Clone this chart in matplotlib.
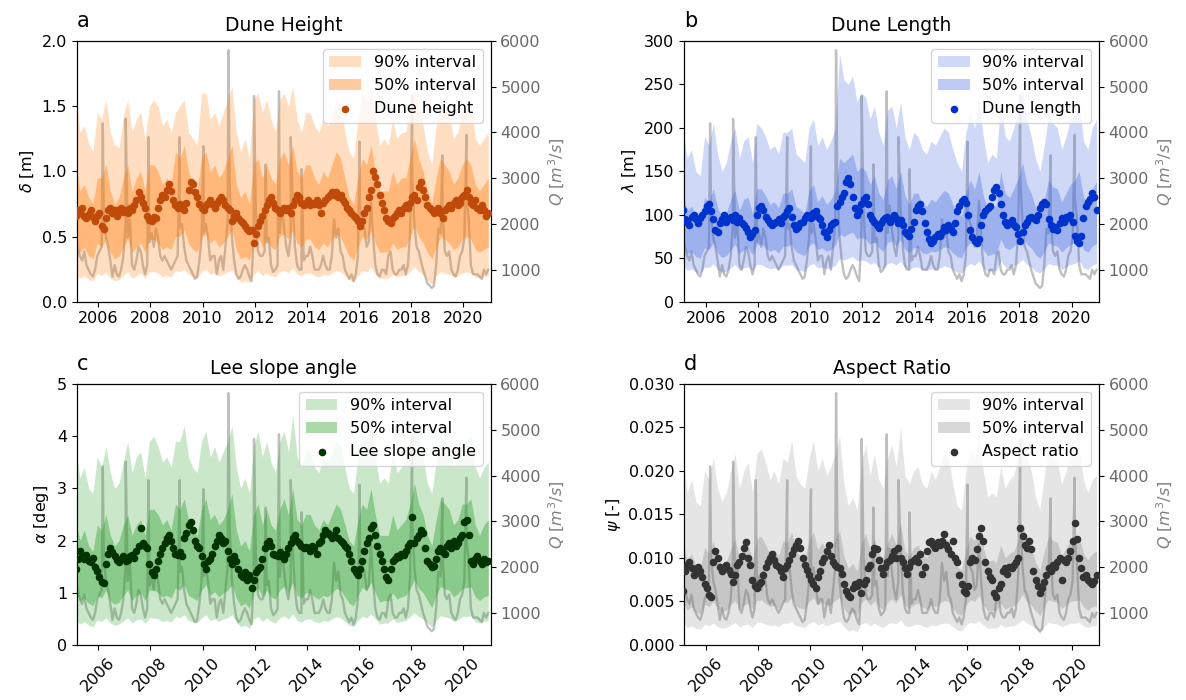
import numpy as np
import matplotlib
matplotlib.use('Agg')
from matplotlib import pyplot as plt

# monthly grid Feb 2005 .. Dec 2020 (decimal years), bands every 2 months
t_month = 2005.125 + np.arange(191) / 12.0
t_band = 2005.125 + np.arange(96) / 6.0

# discharge, monthly base values
Q_BASE = [1700, 1500, 1300, 1200, 1400, 1100, 1000, 900, 850, 1000, 1300,
          1400, 1500, 2200, 1700, 1500, 1200, 850, 1100, 900, 850, 1000, 1300,
          2000, 1700, 2100, 1100, 1000, 1200, 1500, 1400, 1100, 900, 1100, 1600,
          1800, 1500, 1900, 1700, 1300, 1200, 1300, 1200, 1100, 1000, 1100, 1200,
          1300, 1900, 2000, 1500, 1200, 1100, 1000, 900, 800, 850, 1200, 1700,
          1800, 2000, 1700, 1200, 1300, 1300, 900, 1200, 1300, 1000, 1500, 2000,
          2800, 1700, 1200, 900, 800, 850, 1000, 1100, 1000, 850, 750, 1700,
          2300, 1400, 1300, 1300, 1400, 1600, 1700, 1100, 950, 1000, 1100, 1800,
          2400, 1900, 1500, 1300, 1700, 2400, 1500, 1100, 1000, 1000, 1200, 1300,
          1300, 1500, 1300, 1000, 1000, 1000, 1100, 1300, 1100, 1000, 1000, 1300,
          2100, 1700, 1900, 1400, 1300, 1000, 900, 800, 900, 750, 900, 1300,
          2200, 2000, 1900, 1500, 1600, 2500, 1700, 1100, 900, 850, 1000, 1000,
          900, 1300, 1400, 1000, 900, 900, 1000, 1000, 1100, 900, 1100, 1800,
          3000, 2000, 1500, 1400, 1200, 1000, 850, 700, 650, 600, 650, 1100,
          1900, 1800, 2200, 1400, 1300, 1400, 1000, 900, 850, 1000, 1300, 1400,
          1700, 2600, 2100, 1100, 900, 900, 900, 850, 800, 1000, 900, 1000]
# flood peaks
Q_PEAK_T = [2006.17, 2007.05, 2007.92, 2009.12, 2010.03, 2010.99, 2011.97, 2012.42,
            2012.93, 2013.38, 2013.8, 2016.02, 2018.04, 2019.2, 2020.12]
Q_PEAK = [4200, 4300, 3900, 3900, 3700, 5800, 4800, 3300,
          4900, 3900, 3200, 3800, 4800, 3500, 3950]

# a: dune height [m]
HEIGHT = [0.66, 0.70, 0.68, 0.72, 0.66, 0.64, 0.67, 0.70, 0.65, 0.62, 0.66,
          0.68, 0.58, 0.56, 0.64, 0.70, 0.72, 0.68, 0.70, 0.66, 0.70, 0.72, 0.69,
          0.70, 0.68, 0.72, 0.70, 0.74, 0.78, 0.84, 0.80, 0.76, 0.72, 0.66, 0.63,
          0.62, 0.65, 0.64, 0.72, 0.78, 0.82, 0.80, 0.86, 0.90, 0.85, 0.78, 0.74,
          0.72, 0.75, 0.72, 0.70, 0.76, 0.86, 0.92, 0.90, 0.84, 0.80, 0.75, 0.72,
          0.70, 0.74, 0.76, 0.78, 0.75, 0.72, 0.76, 0.78, 0.80, 0.78, 0.74, 0.72,
          0.70, 0.62, 0.66, 0.68, 0.64, 0.62, 0.60, 0.58, 0.56, 0.54, 0.55, 0.45,
          0.52, 0.58, 0.62, 0.66, 0.70, 0.74, 0.78, 0.80, 0.76, 0.72, 0.70, 0.68,
          0.70, 0.72, 0.70, 0.72, 0.68, 0.74, 0.78, 0.82, 0.80, 0.76, 0.74, 0.76,
          0.78, 0.74, 0.76, 0.75, 0.78, 0.74, 0.68, 0.76, 0.78, 0.80, 0.82, 0.84,
          0.82, 0.84, 0.80, 0.82, 0.78, 0.76, 0.72, 0.70, 0.68, 0.66, 0.64, 0.62,
          0.58, 0.62, 0.68, 0.72, 0.80, 0.86, 1.00, 0.96, 0.90, 0.82, 0.76, 0.70,
          0.64, 0.62, 0.60, 0.64, 0.66, 0.68, 0.70, 0.68, 0.72, 0.74, 0.72, 0.76,
          0.80, 0.82, 0.78, 0.88, 0.92, 0.86, 0.80, 0.74, 0.72, 0.70, 0.68, 0.70,
          0.72, 0.68, 0.64, 0.70, 0.72, 0.74, 0.72, 0.76, 0.78, 0.74, 0.76, 0.80,
          0.82, 0.86, 0.80, 0.76, 0.74, 0.78, 0.72, 0.70, 0.74, 0.70, 0.66, 0.68]
H_U90 = [1.62, 1.30, 1.35, 1.22, 1.15, 1.45, 1.40, 1.55, 1.30, 1.20, 1.18, 1.42,
         1.55, 1.30, 1.40, 1.45, 1.25, 1.50, 1.55, 1.50, 1.35, 1.40, 1.30, 1.45,
         1.50, 1.55, 1.30, 1.25, 1.20, 1.60, 1.60, 1.40, 1.45, 1.35, 1.45, 1.55,
         1.65, 1.30, 1.15, 1.25, 1.10, 1.55, 1.60, 1.45, 1.55, 1.40, 1.30, 1.55,
         1.60, 1.50, 1.65, 1.40, 1.30, 1.45, 1.45, 1.35, 1.30, 1.40, 1.35, 1.40,
         1.55, 1.50, 1.30, 1.15, 1.10, 1.40, 1.60, 1.55, 1.65, 1.40, 1.20, 1.25,
         1.20, 1.40, 1.25, 1.30, 1.30, 1.50, 1.65, 1.50, 1.35, 1.15, 1.05, 1.35,
         1.55, 1.50, 1.45, 1.25, 1.30, 1.45, 1.50, 1.55, 1.25, 1.20, 1.25, 1.30]
H_U50 = [1.05, 0.85, 0.90, 0.80, 0.75, 0.95, 0.95, 1.05, 0.85, 0.75, 0.80, 0.95,
         1.05, 0.85, 0.95, 1.00, 0.85, 1.05, 1.05, 1.00, 0.90, 0.95, 0.90, 1.15,
         1.10, 1.20, 1.00, 0.90, 0.85, 1.10, 1.15, 1.00, 1.05, 0.95, 1.00, 1.10,
         1.20, 0.90, 0.80, 0.85, 0.75, 1.05, 1.10, 0.95, 1.05, 0.95, 0.90, 1.10,
         1.15, 1.05, 1.20, 1.00, 0.95, 1.05, 1.05, 0.95, 0.90, 1.00, 0.95, 1.05,
         1.15, 1.10, 0.95, 0.80, 0.75, 0.95, 1.10, 1.05, 1.20, 1.00, 0.85, 0.85,
         0.85, 1.00, 0.90, 0.95, 0.95, 1.10, 1.25, 1.10, 1.00, 0.85, 0.75, 0.95,
         1.10, 1.05, 1.00, 0.90, 0.95, 1.05, 1.10, 1.05, 0.90, 0.85, 0.90, 0.95]
H_L50 = [0.45, 0.38, 0.42, 0.35, 0.33, 0.45, 0.42, 0.48, 0.38, 0.33, 0.35, 0.42,
         0.48, 0.38, 0.42, 0.45, 0.38, 0.48, 0.48, 0.45, 0.40, 0.42, 0.40, 0.50,
         0.50, 0.55, 0.45, 0.40, 0.38, 0.50, 0.52, 0.45, 0.48, 0.42, 0.45, 0.50,
         0.55, 0.40, 0.33, 0.35, 0.32, 0.45, 0.50, 0.42, 0.48, 0.42, 0.40, 0.50,
         0.52, 0.48, 0.55, 0.45, 0.42, 0.48, 0.48, 0.42, 0.40, 0.45, 0.42, 0.48,
         0.52, 0.50, 0.42, 0.35, 0.32, 0.42, 0.50, 0.48, 0.55, 0.45, 0.38, 0.38,
         0.38, 0.45, 0.40, 0.42, 0.42, 0.50, 0.58, 0.50, 0.45, 0.38, 0.33, 0.42,
         0.50, 0.48, 0.45, 0.40, 0.42, 0.48, 0.50, 0.48, 0.40, 0.38, 0.40, 0.42]
H_L90 = [0.22, 0.18, 0.20, 0.17, 0.16, 0.22, 0.20, 0.23, 0.18, 0.16, 0.17, 0.20,
         0.23, 0.18, 0.20, 0.22, 0.18, 0.23, 0.23, 0.22, 0.19, 0.20, 0.19, 0.24,
         0.23, 0.25, 0.21, 0.19, 0.18, 0.23, 0.25, 0.21, 0.22, 0.20, 0.21, 0.23,
         0.25, 0.19, 0.15, 0.16, 0.15, 0.21, 0.24, 0.20, 0.22, 0.20, 0.19, 0.23,
         0.24, 0.22, 0.26, 0.21, 0.20, 0.22, 0.22, 0.20, 0.19, 0.21, 0.20, 0.22,
         0.24, 0.23, 0.20, 0.17, 0.15, 0.20, 0.24, 0.23, 0.26, 0.21, 0.18, 0.18,
         0.18, 0.21, 0.19, 0.20, 0.20, 0.23, 0.27, 0.23, 0.21, 0.17, 0.13, 0.20,
         0.23, 0.22, 0.21, 0.19, 0.20, 0.22, 0.23, 0.22, 0.19, 0.18, 0.19, 0.20]

# b: dune length [m]
LENGTH = [105, 95, 92, 88, 98, 100, 95, 90, 96, 100, 104,
          110, 112, 104, 95, 82, 80, 90, 95, 100, 92, 96, 98,
          94, 100, 92, 96, 90, 88, 85, 80, 74, 78, 82, 100,
          108, 110, 105, 98, 94, 90, 88, 90, 92, 95, 90, 98,
          100, 104, 108, 98, 88, 84, 86, 90, 92, 96, 100, 98,
          96, 102, 104, 98, 95, 88, 80, 75, 82, 88, 90, 92,
          110, 115, 120, 125, 138, 142, 135, 120, 108, 100, 104, 112,
          118, 120, 112, 100, 95, 92, 88, 85, 90, 94, 96, 98,
          92, 95, 100, 96, 90, 94, 88, 80, 78, 76, 84, 92,
          105, 110, 112, 104, 90, 80, 72, 68, 70, 74, 78, 76,
          80, 86, 82, 88, 84, 80, 90, 104, 110, 116, 118, 114,
          100, 82, 75, 70, 68, 72, 88, 100, 104, 108, 110, 120,
          128, 132, 125, 112, 100, 92, 88, 90, 94, 88, 86, 78,
          70, 80, 88, 92, 96, 98, 96, 94, 100, 108, 112, 115,
          112, 95, 88, 84, 86, 82, 90, 96, 92, 98, 96, 100,
          92, 76, 70, 68, 76, 96, 110, 115, 118, 125, 120, 105]
L_U90 = [200, 165, 175, 150, 145, 190, 180, 205, 170, 150, 160, 185,
         200, 165, 185, 190, 160, 205, 200, 190, 175, 180, 170, 195,
         195, 200, 170, 165, 160, 200, 210, 180, 190, 175, 185, 200,
         285, 255, 250, 260, 230, 240, 235, 210, 225, 195, 180, 220,
         225, 200, 230, 190, 175, 195, 190, 175, 170, 185, 180, 190,
         200, 195, 175, 160, 150, 195, 215, 200, 230, 190, 160, 170,
         165, 230, 190, 185, 200, 220, 245, 210, 190, 165, 150, 180,
         215, 205, 200, 175, 190, 210, 215, 230, 185, 175, 200, 210]
L_U50 = [125, 105, 110, 100, 95, 120, 115, 130, 108, 98, 102, 118,
         128, 105, 118, 120, 102, 130, 130, 122, 112, 115, 108, 125,
         125, 130, 110, 106, 102, 128, 135, 115, 122, 112, 118, 128,
         165, 160, 165, 170, 150, 155, 150, 135, 145, 125, 118, 140,
         145, 130, 150, 122, 112, 125, 125, 112, 110, 118, 115, 122,
         128, 125, 112, 104, 98, 125, 140, 130, 150, 122, 105, 110,
         110, 150, 125, 120, 130, 142, 160, 135, 125, 108, 100, 118,
         140, 132, 130, 115, 125, 135, 140, 150, 120, 115, 130, 138]
L_L50 = [65, 55, 58, 52, 50, 62, 60, 68, 56, 51, 53, 60,
         66, 55, 60, 62, 54, 66, 66, 62, 58, 60, 56, 64,
         64, 66, 57, 55, 53, 65, 68, 60, 62, 58, 60, 65,
         78, 75, 78, 80, 72, 74, 72, 66, 70, 62, 58, 68,
         70, 64, 72, 60, 56, 62, 62, 56, 55, 58, 57, 60,
         63, 62, 56, 52, 50, 62, 68, 64, 72, 60, 53, 55,
         55, 72, 62, 60, 64, 68, 76, 66, 62, 54, 50, 58,
         68, 65, 64, 57, 62, 66, 68, 72, 60, 57, 64, 67]
L_L90 = [42, 36, 38, 34, 33, 40, 39, 44, 37, 34, 35, 39,
         43, 36, 39, 40, 36, 43, 43, 40, 38, 39, 37, 42,
         42, 43, 37, 36, 35, 42, 44, 39, 40, 38, 39, 42,
         50, 48, 50, 52, 47, 48, 47, 43, 45, 40, 38, 44,
         45, 42, 47, 39, 37, 40, 40, 37, 36, 38, 37, 39,
         41, 40, 37, 34, 33, 40, 44, 42, 47, 39, 35, 36,
         36, 47, 40, 39, 42, 44, 49, 43, 40, 35, 33, 38,
         44, 42, 42, 37, 40, 43, 44, 47, 39, 37, 42, 44]

# c: lee slope angle [deg]
ANGLE = [1.45, 1.65, 1.80, 1.70, 1.65, 1.72, 1.60, 1.58, 1.66, 1.50, 1.42,
         1.30, 1.20, 1.18, 1.55, 1.75, 1.85, 1.78, 1.70, 1.62, 1.58, 1.65, 1.70,
         1.60, 1.62, 1.70, 1.72, 1.66, 1.80, 1.90, 2.25, 1.95, 1.90, 1.85, 1.55,
         1.40, 1.35, 1.45, 1.60, 1.75, 1.85, 1.95, 2.05, 2.10, 2.00, 1.85, 1.75,
         1.72, 1.78, 1.70, 2.05, 2.15, 2.30, 2.35, 2.20, 2.00, 1.90, 1.85, 1.70,
         1.55, 1.45, 1.60, 1.65, 1.75, 1.90, 2.00, 2.10, 2.05, 1.95, 2.00, 1.80,
         1.65, 1.55, 1.70, 1.60, 1.45, 1.35, 1.30, 1.40, 1.25, 1.35, 1.10, 1.25,
         1.40, 1.45, 1.50, 1.65, 1.85, 1.95, 2.00, 1.90, 1.75, 1.72, 1.70, 1.78,
         1.70, 1.65, 1.75, 1.85, 1.95, 2.05, 2.10, 2.00, 1.95, 1.90, 1.85, 1.88,
         1.85, 1.80, 1.90, 1.85, 1.75, 1.95, 2.00, 2.10, 2.20, 2.15, 2.10, 2.05,
         2.10, 2.20, 2.05, 2.00, 1.95, 1.90, 1.85, 1.75, 1.60, 1.45, 1.40, 1.35,
         1.45, 1.60, 1.80, 1.95, 2.05, 2.25, 2.30, 2.10, 1.90, 1.75, 1.60, 1.45,
         1.30, 1.25, 1.45, 1.60, 1.65, 1.70, 1.68, 1.75, 1.72, 1.80, 1.90, 1.95,
         2.45, 1.95, 2.05, 2.10, 2.20, 2.15, 1.85, 1.60, 1.55, 1.50, 1.52, 1.65,
         1.80, 1.85, 1.78, 1.75, 1.90, 1.95, 1.85, 2.00, 1.90, 1.95, 2.05, 2.10,
         2.35, 2.40, 2.10, 1.60, 1.55, 1.65, 1.70, 1.60, 1.55, 1.65, 1.58, 1.60]
A_U90 = [3.80, 3.20, 3.40, 3.00, 2.90, 3.60, 3.40, 3.80, 3.30, 3.00, 3.10, 3.50,
         3.90, 3.30, 3.60, 3.70, 3.20, 3.90, 4.00, 3.80, 3.50, 3.60, 3.40, 3.90,
         3.90, 4.20, 3.60, 3.40, 3.30, 3.90, 4.10, 3.60, 3.80, 3.50, 3.70, 3.90,
         4.20, 3.40, 3.00, 3.20, 2.90, 3.80, 4.10, 3.60, 3.90, 3.50, 3.30, 3.90,
         4.10, 3.70, 4.40, 3.60, 3.40, 3.70, 3.70, 3.40, 3.30, 3.60, 3.50, 3.70,
         3.90, 3.80, 3.40, 3.00, 2.90, 3.60, 4.00, 3.90, 4.30, 3.60, 3.10, 3.20,
         3.10, 3.70, 3.30, 3.40, 3.50, 3.90, 4.40, 3.90, 3.60, 3.10, 2.90, 3.50,
         4.00, 3.90, 3.80, 3.40, 3.60, 3.90, 3.90, 4.00, 3.40, 3.20, 3.40, 3.50]
A_U50 = [2.40, 2.00, 2.20, 1.90, 1.80, 2.30, 2.20, 2.50, 2.10, 1.90, 2.00, 2.30,
         2.50, 2.10, 2.30, 2.40, 2.10, 2.60, 2.60, 2.50, 2.30, 2.40, 2.20, 2.70,
         2.60, 2.80, 2.40, 2.20, 2.10, 2.60, 2.80, 2.40, 2.50, 2.30, 2.40, 2.60,
         2.90, 2.20, 1.90, 2.00, 1.80, 2.50, 2.70, 2.30, 2.60, 2.30, 2.20, 2.60,
         2.80, 2.50, 3.00, 2.40, 2.30, 2.50, 2.50, 2.30, 2.20, 2.40, 2.30, 2.50,
         2.70, 2.60, 2.30, 2.00, 1.90, 2.40, 2.70, 2.60, 3.00, 2.50, 2.10, 2.10,
         2.10, 2.50, 2.20, 2.30, 2.40, 2.70, 3.10, 2.70, 2.50, 2.10, 1.90, 2.40,
         2.80, 2.70, 2.60, 2.30, 2.40, 2.70, 2.70, 2.80, 2.30, 2.10, 2.30, 2.40]
A_L50 = [1.00, 0.85, 0.90, 0.80, 0.75, 0.95, 0.90, 1.05, 0.85, 0.78, 0.82, 0.95,
         1.05, 0.85, 0.95, 1.00, 0.85, 1.05, 1.05, 1.00, 0.92, 0.95, 0.90, 1.10,
         1.05, 1.15, 0.95, 0.90, 0.85, 1.05, 1.15, 0.95, 1.02, 0.92, 1.00, 1.05,
         1.15, 0.90, 0.75, 0.80, 0.70, 1.00, 1.10, 0.92, 1.05, 0.92, 0.88, 1.05,
         1.12, 1.00, 1.20, 0.95, 0.90, 1.00, 1.00, 0.92, 0.88, 0.95, 0.92, 1.00,
         1.08, 1.05, 0.92, 0.80, 0.75, 0.95, 1.10, 1.05, 1.20, 1.00, 0.82, 0.85,
         0.85, 1.00, 0.88, 0.92, 0.95, 1.08, 1.25, 1.08, 1.00, 0.85, 0.72, 0.95,
         1.12, 1.08, 1.05, 0.92, 0.98, 1.08, 1.10, 1.12, 0.92, 0.85, 0.92, 0.95]
A_L90 = [0.50, 0.40, 0.45, 0.38, 0.35, 0.48, 0.45, 0.52, 0.42, 0.38, 0.40, 0.46,
         0.52, 0.42, 0.48, 0.50, 0.42, 0.52, 0.52, 0.50, 0.45, 0.47, 0.44, 0.55,
         0.52, 0.58, 0.47, 0.44, 0.42, 0.52, 0.58, 0.47, 0.50, 0.45, 0.50, 0.52,
         0.58, 0.44, 0.35, 0.38, 0.32, 0.50, 0.55, 0.45, 0.52, 0.45, 0.42, 0.52,
         0.56, 0.50, 0.60, 0.47, 0.44, 0.50, 0.50, 0.45, 0.43, 0.47, 0.45, 0.50,
         0.54, 0.52, 0.45, 0.38, 0.35, 0.47, 0.55, 0.52, 0.60, 0.50, 0.40, 0.42,
         0.42, 0.50, 0.43, 0.45, 0.47, 0.54, 0.62, 0.54, 0.50, 0.42, 0.34, 0.47,
         0.56, 0.54, 0.52, 0.45, 0.48, 0.54, 0.55, 0.56, 0.45, 0.42, 0.45, 0.47]

# d: aspect ratio [-]
ASPECT = [0.0062, 0.0085, 0.0092, 0.0095, 0.0088, 0.0080, 0.0083, 0.0090, 0.0085, 0.0078, 0.0070,
          0.0065, 0.0058, 0.0055, 0.0095, 0.0108, 0.0100, 0.0090, 0.0085, 0.0088, 0.0092, 0.0086, 0.0082,
          0.0072, 0.0080, 0.0092, 0.0095, 0.0102, 0.0112, 0.0118, 0.0100, 0.0092, 0.0075, 0.0068, 0.0065,
          0.0070, 0.0072, 0.0080, 0.0090, 0.0095, 0.0100, 0.0105, 0.0098, 0.0092, 0.0090, 0.0085, 0.0078,
          0.0088, 0.0092, 0.0098, 0.0105, 0.0110, 0.0115, 0.0120, 0.0112, 0.0100, 0.0092, 0.0086, 0.0080,
          0.0075, 0.0070, 0.0065, 0.0078, 0.0085, 0.0095, 0.0100, 0.0108, 0.0115, 0.0102, 0.0095, 0.0092,
          0.0090, 0.0088, 0.0082, 0.0070, 0.0062, 0.0058, 0.0055, 0.0065, 0.0070, 0.0068, 0.0072, 0.0060,
          0.0070, 0.0075, 0.0088, 0.0092, 0.0105, 0.0112, 0.0110, 0.0098, 0.0088, 0.0082, 0.0090, 0.0095,
          0.0098, 0.0102, 0.0108, 0.0100, 0.0112, 0.0100, 0.0095, 0.0088, 0.0082, 0.0090, 0.0095, 0.0098,
          0.0100, 0.0095, 0.0105, 0.0082, 0.0090, 0.0108, 0.0118, 0.0120, 0.0115, 0.0112, 0.0118, 0.0115,
          0.0120, 0.0128, 0.0115, 0.0110, 0.0105, 0.0120, 0.0100, 0.0095, 0.0080, 0.0070, 0.0062, 0.0060,
          0.0068, 0.0095, 0.0100, 0.0098, 0.0110, 0.0125, 0.0135, 0.0120, 0.0095, 0.0085, 0.0078, 0.0075,
          0.0060, 0.0055, 0.0065, 0.0070, 0.0085, 0.0088, 0.0082, 0.0090, 0.0088, 0.0092, 0.0095, 0.0100,
          0.0135, 0.0125, 0.0115, 0.0112, 0.0120, 0.0110, 0.0085, 0.0075, 0.0068, 0.0060, 0.0065, 0.0072,
          0.0080, 0.0088, 0.0085, 0.0092, 0.0090, 0.0095, 0.0100, 0.0075, 0.0098, 0.0095, 0.0100, 0.0108,
          0.0120, 0.0140, 0.0122, 0.0100, 0.0088, 0.0078, 0.0080, 0.0075, 0.0072, 0.0070, 0.0074, 0.0080]
P_U90 = [0.0220, 0.0175, 0.0190, 0.0165, 0.0160, 0.0200, 0.0190, 0.0215, 0.0180, 0.0165, 0.0175, 0.0200,
         0.0220, 0.0180, 0.0200, 0.0210, 0.0175, 0.0220, 0.0225, 0.0210, 0.0190, 0.0200, 0.0185, 0.0215,
         0.0210, 0.0235, 0.0195, 0.0185, 0.0180, 0.0215, 0.0235, 0.0200, 0.0215, 0.0195, 0.0205, 0.0220,
         0.0240, 0.0185, 0.0160, 0.0170, 0.0155, 0.0210, 0.0230, 0.0195, 0.0220, 0.0190, 0.0180, 0.0215,
         0.0230, 0.0205, 0.0250, 0.0195, 0.0185, 0.0200, 0.0205, 0.0185, 0.0180, 0.0200, 0.0190, 0.0205,
         0.0220, 0.0215, 0.0185, 0.0160, 0.0155, 0.0200, 0.0225, 0.0215, 0.0245, 0.0200, 0.0170, 0.0175,
         0.0170, 0.0205, 0.0180, 0.0190, 0.0195, 0.0215, 0.0250, 0.0215, 0.0200, 0.0170, 0.0155, 0.0195,
         0.0225, 0.0215, 0.0210, 0.0185, 0.0200, 0.0215, 0.0220, 0.0225, 0.0190, 0.0175, 0.0190, 0.0195]
P_U50 = [0.0120, 0.0098, 0.0105, 0.0092, 0.0088, 0.0112, 0.0105, 0.0120, 0.0100, 0.0092, 0.0096, 0.0110,
         0.0122, 0.0100, 0.0110, 0.0115, 0.0098, 0.0122, 0.0125, 0.0115, 0.0105, 0.0110, 0.0102, 0.0120,
         0.0118, 0.0130, 0.0108, 0.0102, 0.0100, 0.0120, 0.0130, 0.0110, 0.0118, 0.0108, 0.0112, 0.0122,
         0.0132, 0.0102, 0.0088, 0.0094, 0.0085, 0.0115, 0.0128, 0.0108, 0.0122, 0.0105, 0.0100, 0.0118,
         0.0128, 0.0115, 0.0140, 0.0108, 0.0102, 0.0112, 0.0115, 0.0105, 0.0100, 0.0110, 0.0105, 0.0115,
         0.0122, 0.0120, 0.0102, 0.0090, 0.0086, 0.0110, 0.0125, 0.0120, 0.0138, 0.0112, 0.0095, 0.0098,
         0.0095, 0.0115, 0.0100, 0.0105, 0.0108, 0.0120, 0.0140, 0.0120, 0.0112, 0.0095, 0.0086, 0.0108,
         0.0125, 0.0120, 0.0118, 0.0102, 0.0112, 0.0120, 0.0122, 0.0125, 0.0105, 0.0098, 0.0105, 0.0108]
P_L50 = [0.0050, 0.0040, 0.0044, 0.0038, 0.0036, 0.0047, 0.0044, 0.0050, 0.0042, 0.0038, 0.0040, 0.0046,
         0.0051, 0.0042, 0.0046, 0.0048, 0.0041, 0.0051, 0.0052, 0.0048, 0.0044, 0.0046, 0.0042, 0.0050,
         0.0049, 0.0054, 0.0045, 0.0042, 0.0041, 0.0050, 0.0054, 0.0046, 0.0049, 0.0045, 0.0047, 0.0051,
         0.0055, 0.0042, 0.0035, 0.0038, 0.0034, 0.0048, 0.0053, 0.0045, 0.0051, 0.0044, 0.0041, 0.0049,
         0.0053, 0.0048, 0.0058, 0.0045, 0.0042, 0.0046, 0.0048, 0.0044, 0.0041, 0.0046, 0.0044, 0.0048,
         0.0051, 0.0050, 0.0042, 0.0036, 0.0034, 0.0046, 0.0052, 0.0050, 0.0057, 0.0046, 0.0039, 0.0040,
         0.0039, 0.0048, 0.0041, 0.0044, 0.0045, 0.0050, 0.0058, 0.0050, 0.0046, 0.0039, 0.0034, 0.0045,
         0.0052, 0.0050, 0.0049, 0.0042, 0.0046, 0.0050, 0.0051, 0.0052, 0.0044, 0.0040, 0.0044, 0.0045]
P_L90 = [0.0026, 0.0020, 0.0022, 0.0019, 0.0018, 0.0024, 0.0022, 0.0025, 0.0021, 0.0019, 0.0020, 0.0023,
         0.0026, 0.0021, 0.0023, 0.0024, 0.0020, 0.0026, 0.0026, 0.0024, 0.0022, 0.0023, 0.0021, 0.0025,
         0.0025, 0.0027, 0.0022, 0.0021, 0.0020, 0.0025, 0.0027, 0.0023, 0.0025, 0.0022, 0.0024, 0.0026,
         0.0027, 0.0021, 0.0016, 0.0018, 0.0015, 0.0024, 0.0026, 0.0022, 0.0025, 0.0022, 0.0020, 0.0024,
         0.0026, 0.0024, 0.0029, 0.0022, 0.0021, 0.0023, 0.0024, 0.0022, 0.0020, 0.0023, 0.0022, 0.0024,
         0.0025, 0.0025, 0.0021, 0.0017, 0.0016, 0.0023, 0.0026, 0.0025, 0.0028, 0.0023, 0.0019, 0.0020,
         0.0019, 0.0024, 0.0020, 0.0022, 0.0022, 0.0025, 0.0029, 0.0025, 0.0023, 0.0019, 0.0013, 0.0022,
         0.0026, 0.0025, 0.0024, 0.0021, 0.0023, 0.0025, 0.0025, 0.0026, 0.0022, 0.0020, 0.0022, 0.0022]

YEARS = [2006, 2008, 2010, 2012, 2014, 2016, 2018, 2020]

# discharge series with peaks merged in
q_t = np.concatenate([t_month, Q_PEAK_T])
q_v = np.concatenate([Q_BASE, Q_PEAK])
order = np.argsort(q_t)
q_t, q_v = q_t[order], q_v[order]


def draw_panel(rect, letter, title, series, bands, ylabel, ylim, yticks,
               fill_color, dot_color, dot_label, a90, a50, rotate):
	ax = fig.add_axes(rect)
	ax2 = ax.twinx()
	# discharge behind the bands
	ax.set_zorder(ax2.get_zorder() + 1)
	ax.patch.set_visible(False)
	ax2.plot(q_t, q_v, color='gray', alpha=0.5, lw=1.7)
	ax2.set_ylim(300, 6000)
	ax2.set_yticks([1000, 2000, 3000, 4000, 5000, 6000])
	ax2.tick_params(labelsize=11.5, labelcolor='dimgray')
	ax2.set_ylabel('$Q$ [$m^3/s$]', color='gray', fontsize=11.5)

	u90, u50, l50, l90 = bands
	f90 = ax.fill_between(t_band, l90, u90, color=fill_color, alpha=a90, lw=0)
	f50 = ax.fill_between(t_band, l50, u50, color=fill_color, alpha=a50, lw=0)
	sc = ax.scatter(t_month, series, s=20, color=dot_color, zorder=3)
	ax.set_xlim(2005.17, 2021.05)
	ax.set_ylim(*ylim)
	ax.set_yticks(yticks)
	ax.set_xticks(YEARS)
	ax.set_xticklabels([str(y) for y in YEARS], rotation=45 if rotate else 0)
	ax.set_ylabel(ylabel, fontsize=11.5)
	ax.tick_params(labelsize=11.5)
	ax.set_title(title, fontsize=13.5, pad=7)
	ax.text(0.0, 1.04, letter, transform=ax.transAxes, fontsize=15, va='bottom')
	ax.legend([f90, f50, sc], ['90% interval', '50% interval', dot_label],
	          loc='upper right', fontsize=11.5)
	return ax


fig = plt.figure(figsize=(11.86, 7.0), dpi=100)

draw_panel([0.0647, 0.569, 0.349, 0.3724], 'a', 'Dune Height', HEIGHT,
           (H_U90, H_U50, H_L50, H_L90), r'$\delta$ [m]', (0, 2.0),
           [0.0, 0.5, 1.0, 1.5, 2.0], '#ff7f0e', '#c04a0a', 'Dune height', 0.25, 0.4, False)
draw_panel([0.5767, 0.569, 0.3499, 0.3724], 'b', 'Dune Length', LENGTH,
           (L_U90, L_U50, L_L50, L_L90), r'$\lambda$ [m]', (0, 300),
           [0, 50, 100, 150, 200, 250, 300], 'royalblue', '#0033cc', 'Dune length', 0.25, 0.35, False)
draw_panel([0.0647, 0.0786, 0.349, 0.3729], 'c', 'Lee slope angle', ANGLE,
           (A_U90, A_U50, A_L50, A_L90), r'$\alpha$ [deg]', (0, 5),
           [0, 1, 2, 3, 4, 5], '#2ca02c', '#003300', 'Lee slope angle', 0.25, 0.4, True)
ax_d = draw_panel([0.5767, 0.0786, 0.3499, 0.3729], 'd', 'Aspect Ratio', ASPECT,
                  (P_U90, P_U50, P_L50, P_L90), r'$\psi$ [-]', (0, 0.03),
                  [0.0, 0.005, 0.01, 0.015, 0.02, 0.025, 0.03], 'gray', '#333333',
                  'Aspect ratio', 0.2, 0.3, True)
ax_d.set_yticklabels(['0.000', '0.005', '0.010', '0.015', '0.020', '0.025', '0.030'])

fig.savefig('out.png', dpi=100)
